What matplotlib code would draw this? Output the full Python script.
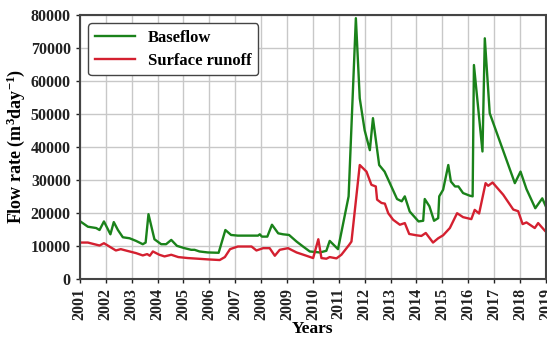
import matplotlib
matplotlib.use('Agg')
from matplotlib import pyplot as plt


# values (decimal year, m3/day)
baseflow_years = [2001.0, 2001.31, 2001.63, 2001.76, 2001.93, 2002.18, 2002.31, 2002.47,
                  2002.66, 2002.92, 2003.17, 2003.43, 2003.54, 2003.65, 2003.88, 2004.14,
                  2004.33, 2004.53, 2004.75, 2005.04, 2005.3, 2005.43, 2005.62, 2005.94,
                  2006.36, 2006.62, 2006.84, 2007.1, 2007.88, 2007.95, 2008.03, 2008.24,
                  2008.42, 2008.66, 2008.85, 2009.08, 2009.37, 2009.62, 2009.88, 2010.27,
                  2010.52, 2010.65, 2010.97, 2011.38, 2011.66, 2011.81, 2012.0, 2012.2,
                  2012.32, 2012.56, 2012.77, 2013.25, 2013.43, 2013.55, 2013.74, 2014.08,
                  2014.26, 2014.32, 2014.5, 2014.68, 2014.84, 2014.88, 2015.03, 2015.23,
                  2015.33, 2015.49, 2015.62, 2015.8, 2016.06, 2016.17, 2016.22, 2016.55,
                  2016.64, 2016.83, 2017.8, 2018.02, 2018.25, 2018.59, 2018.86, 2019.0]
baseflow = [17500, 15800, 15400, 14800, 17400, 13500, 17200, 14800,
            12600, 12300, 11500, 10500, 11000, 19600, 12000, 10500,
            10500, 11800, 10000, 9300, 8800, 8800, 8300, 8000,
            7900, 14800, 13300, 13100, 13100, 13500, 12800, 12800,
            16400, 13800, 13500, 13300, 11300, 9800, 8300, 8000,
            8500, 11500, 9000, 25000, 79000, 54700, 45000, 39000,
            48700, 34500, 32500, 24200, 23500, 25000, 20400, 17400,
            17600, 24200, 22000, 17600, 18400, 25000, 27000, 34500,
            29500, 28000, 28000, 26000, 25200, 25000, 64800, 38600,
            72900, 50200, 29000, 32500, 27200, 21400, 24400, 21900]

runoff_years = [2001.0, 2001.31, 2001.76, 2001.93, 2002.14, 2002.39, 2002.58, 2002.82,
                2003.17, 2003.43, 2003.6, 2003.7, 2003.82, 2004.07, 2004.27, 2004.53,
                2004.8, 2005.17, 2005.56, 2005.94, 2006.4, 2006.6, 2006.8, 2007.1,
                2007.3, 2007.63, 2007.82, 2008.08, 2008.33, 2008.53, 2008.72, 2009.04,
                2009.37, 2009.75, 2010.01, 2010.21, 2010.33, 2010.52, 2010.65, 2010.91,
                2011.1, 2011.4, 2011.49, 2011.81, 2012.07, 2012.26, 2012.43, 2012.48,
                2012.65, 2012.78, 2012.91, 2013.1, 2013.36, 2013.55, 2013.72, 2014.0,
                2014.19, 2014.36, 2014.64, 2014.84, 2015.03, 2015.29, 2015.57, 2015.8,
                2016.12, 2016.25, 2016.42, 2016.67, 2016.77, 2016.94, 2017.35, 2017.74,
                2017.93, 2018.1, 2018.25, 2018.57, 2018.7, 2018.97, 2019.0]
runoff = [11000, 11000, 10100, 10800, 9800, 8600, 9000, 8500,
          7800, 7100, 7500, 7000, 8300, 7300, 6800, 7300,
          6600, 6300, 6100, 5900, 5700, 6600, 9000, 9800,
          9800, 9800, 8600, 9300, 9300, 7000, 8800, 9300,
          8000, 7000, 6300, 12000, 6300, 6100, 6600, 6200,
          7300, 10300, 11300, 34500, 32500, 28500, 28000, 24000,
          23000, 22800, 19900, 17900, 16400, 16900, 13600, 13200,
          13000, 13900, 11000, 12300, 13200, 15400, 19900, 18700,
          18100, 20900, 19800, 29000, 28200, 29200, 25500, 21000,
          20500, 16600, 17100, 15400, 16900, 14500, 14300]

year_ticks = list(range(2001, 2020))

plt.rcParams['font.family'] = 'Liberation Serif'
plt.rcParams['font.weight'] = 'bold'
plt.rcParams['mathtext.fontset'] = 'custom'
plt.rcParams['mathtext.rm'] = 'Liberation Serif:bold'
plt.rcParams['mathtext.bf'] = 'Liberation Serif:bold'
plt.rcParams['mathtext.default'] = 'bf'

fig = plt.figure(figsize=(5.47, 3.38), dpi=100)
ax = fig.add_axes([0.146, 0.175, 0.852, 0.781])

ax.plot(baseflow_years, baseflow, color='#1a821a', lw=1.7, label='Baseflow')
ax.plot(runoff_years, runoff, color='#d42030', lw=1.7, label='Surface runoff')

ax.set_xlim(2001, 2019)
ax.set_ylim(0, 80000)
ax.set_xticks(year_ticks)
ax.set_xticklabels([str(y) for y in year_ticks], rotation=90)
ax.set_yticks(range(0, 80001, 10000))
ax.tick_params(labelsize=11.5, length=3, width=1, colors='#222222')
ax.grid(True, color='#c8c8c8', lw=1)
ax.set_axisbelow(True)
for s in ax.spines.values():
    s.set_color('#444444')
    s.set_linewidth(1.5)

ax.set_xlabel('Years', fontsize=12.5, fontweight='bold', labelpad=1)
ax.set_ylabel('Flow rate (m$^3$day$^{-1}$)', fontsize=13, fontweight='bold', labelpad=3)

leg = ax.legend(loc='upper left', fontsize=12, frameon=True, fancybox=True,
                edgecolor='#444444', framealpha=1, handlelength=2.4,
                borderaxespad=0.5, labelspacing=0.4)
for t in leg.get_texts():
    t.set_fontweight('bold')

fig.savefig('out.png', dpi=100)
